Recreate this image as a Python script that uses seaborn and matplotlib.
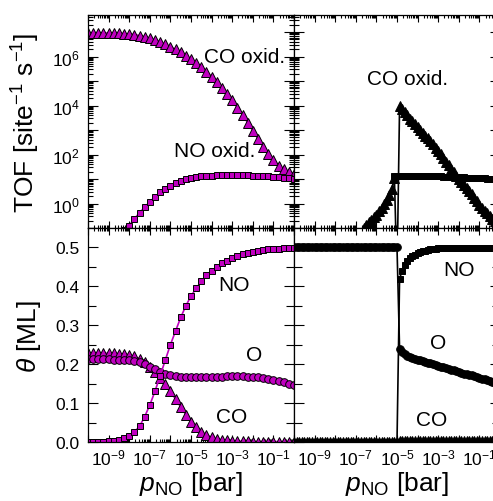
import numpy as np
import pandas as pd
import matplotlib
matplotlib.use('Agg')
import matplotlib.pyplot as plt
import matplotlib.ticker as mticker
import seaborn as sns

# ---- data ----
# pressure grids, log10(p_NO / bar)
logp_left = [-10, -9.75, -9.5, -9.25, -9, -8.75, -8.5, -8.25, -8, -7.75, -7.5, -7.25, -7,
             -6.75, -6.5, -6.25, -6, -5.75, -5.5, -5.25, -5, -4.75, -4.5, -4.25, -4, -3.75,
             -3.5, -3.25, -3, -2.75, -2.5, -2.25, -2, -1.75, -1.5, -1.25, -1, -0.75, -0.5,
             -0.25, 0]
logp_right = [-10, -9.875, -9.75, -9.625, -9.5, -9.375, -9.25, -9.125,
              -9, -8.875, -8.75, -8.625, -8.5, -8.375, -8.25, -8.125,
              -8, -7.875, -7.75, -7.625, -7.5, -7.375, -7.25, -7.125,
              -7, -6.875, -6.75, -6.625, -6.5, -6.375, -6.25, -6.125,
              -6, -5.875, -5.75, -5.625, -5.5, -5.375, -5.25, -5.125,
              -5, -4.875, -4.75, -4.625, -4.5, -4.375, -4.25, -4.125,
              -4, -3.875, -3.75, -3.625, -3.5, -3.375, -3.25, -3.125,
              -3, -2.875, -2.75, -2.625, -2.5, -2.375, -2.25, -2.125,
              -2, -1.875, -1.75, -1.625, -1.5, -1.375, -1.25, -1.125,
              -1, -0.875, -0.75, -0.625, -0.5, -0.375, -0.25, -0.125, 0]

# log10(TOF), left column (magenta)
tof_co_left = [6.97, 6.97, 6.97, 6.97, 6.96, 6.96, 6.95, 6.94, 6.92, 6.9, 6.86, 6.81, 6.75,
               6.68, 6.6, 6.5, 6.4, 6.29, 6.17, 6.04, 5.9, 5.74, 5.57, 5.38, 5.18, 4.96, 4.73,
               4.48, 4.21, 3.92, 3.62, 3.3, 2.97, 2.64, 2.32, 2.02, 1.76, 1.55, 1.4, 1.3, 1.2]
tof_no_left = [-2.6, -2.3, -2.0, -1.8, -1.6, -1.4, -1.25, -1.08, -0.9, -0.62, -0.38, -0.15,
               0.07, 0.27, 0.45, 0.6, 0.73, 0.83, 0.92, 0.99, 1.04, 1.08, 1.11, 1.13, 1.14,
               1.15, 1.15, 1.15, 1.15, 1.15, 1.15, 1.15, 1.14, 1.14, 1.13, 1.12, 1.1, 1.08,
               1.06, 1.03, 1.0]

# coverages, left column (magenta)
cov_no_left = [0.0, 0.0, 0.001, 0.001, 0.002, 0.003, 0.005, 0.009, 0.016, 0.026, 0.04, 0.065,
               0.095, 0.13, 0.17, 0.21, 0.25, 0.285, 0.32, 0.35, 0.375, 0.395, 0.413, 0.428,
               0.44, 0.45, 0.459, 0.466, 0.472, 0.477, 0.482, 0.486, 0.489, 0.492, 0.494,
               0.495, 0.496, 0.497, 0.498, 0.499, 0.499]
cov_o_left = [0.213, 0.213, 0.213, 0.213, 0.213, 0.212, 0.212, 0.211, 0.21, 0.208, 0.205, 0.2,
              0.194, 0.187, 0.18, 0.175, 0.171, 0.169, 0.167, 0.166, 0.166, 0.166, 0.166,
              0.167, 0.167, 0.168, 0.168, 0.169, 0.169, 0.169, 0.169, 0.168, 0.167, 0.166,
              0.164, 0.162, 0.159, 0.156, 0.153, 0.15, 0.147]
cov_co_left = [0.228, 0.228, 0.228, 0.228, 0.228, 0.228, 0.227, 0.226, 0.224, 0.22, 0.214,
               0.205, 0.193, 0.18, 0.165, 0.148, 0.13, 0.11, 0.09, 0.07, 0.052, 0.038, 0.026,
               0.018, 0.012, 0.008, 0.005, 0.004, 0.003, 0.002, 0.002, 0.002, 0.001, 0.001,
               0.001, 0.001, 0.001, 0.001, 0.001, 0.001, 0.001]

# log10(TOF), right column (black); NaN = nothing drawn
nan = np.nan
tof_co_right = [nan, nan, nan, nan, nan, nan, nan, nan,
                nan, nan, nan, nan, nan, nan, nan, nan,
                nan, nan, nan, nan, nan, nan, nan, nan,
                -1.7, -1.45, -1.22, -1.02, -0.88, -0.77, -0.67, -0.57,
                -0.45, -0.32, -0.18, -0.02, 0.14, 0.33, 0.6, 1.05,
                -3.0, 3.98, 3.86, 3.74, 3.6, 3.47, 3.36, 3.25,
                3.13, 3.01, 2.89, 2.77, 2.66, 2.54, 2.42, 2.28,
                2.15, 2.01, 1.86, 1.71, 1.56, 1.42, 1.28, 1.14,
                1.0, 0.87, 0.75, 0.62, 0.5, 0.37, 0.24, 0.1,
                -0.05, -0.17, -0.29, -0.4, -0.51, -0.62, -0.73, -0.84, -0.95]
tof_no_right = [nan, nan, nan, nan, nan, nan, nan, nan,
                nan, nan, nan, nan, nan, nan, nan, nan,
                nan, nan, nan, nan, nan, nan, nan, nan,
                nan, nan, nan, nan, nan, nan, nan, nan,
                nan, nan, nan, nan, nan, nan, nan, 1.13,
                1.14, 1.14, 1.14, 1.14, 1.14, 1.14, 1.13, 1.13,
                1.13, 1.13, 1.13, 1.12, 1.12, 1.12, 1.12, 1.11,
                1.11, 1.11, 1.1, 1.1, 1.1, 1.09, 1.09, 1.08,
                1.08, 1.07, 1.07, 1.06, 1.06, 1.05, 1.05, 1.04,
                1.04, 1.03, 1.03, 1.02, 1.02, 1.01, 1.01, 1.0, 1.0]

# coverages, right column (black)
cov_o_right = [0.5, 0.5, 0.5, 0.5, 0.5, 0.5, 0.5, 0.5,
               0.5, 0.5, 0.5, 0.5, 0.5, 0.5, 0.5, 0.5,
               0.5, 0.5, 0.5, 0.5, 0.5, 0.5, 0.5, 0.5,
               0.5, 0.5, 0.5, 0.5, 0.5, 0.5, 0.5, 0.5,
               0.5, 0.5, 0.5, 0.5, 0.5, 0.5, 0.5, 0.5,
               0.5, 0.24, 0.231, 0.225, 0.221, 0.218, 0.216, 0.214,
               0.212, 0.21, 0.208, 0.206, 0.204, 0.202, 0.2, 0.198,
               0.196, 0.194, 0.192, 0.19, 0.188, 0.186, 0.184, 0.182,
               0.18, 0.178, 0.176, 0.175, 0.173, 0.171, 0.169, 0.167,
               0.165, 0.163, 0.161, 0.159, 0.157, 0.155, 0.152, 0.15, 0.147]
cov_no_right = [0.0, 0.0, 0.0, 0.0, 0.0, 0.0, 0.0, 0.0,
                0.0, 0.0, 0.0, 0.0, 0.0, 0.0, 0.0, 0.0,
                0.0, 0.0, 0.0, 0.0, 0.0, 0.0, 0.0, 0.0,
                0.0, 0.0, 0.0, 0.0, 0.0, 0.0, 0.0, 0.0,
                0.0, 0.0, 0.0, 0.0, 0.0, 0.0, 0.0, 0.0,
                0.0, 0.42, 0.44, 0.455, 0.465, 0.472, 0.477, 0.481,
                0.485, 0.488, 0.49, 0.492, 0.494, 0.495, 0.496, 0.497,
                0.498, 0.499, 0.499, 0.499, 0.499, 0.499, 0.499, 0.499,
                0.499, 0.499, 0.499, 0.499, 0.499, 0.499, 0.499, 0.499,
                0.499, 0.499, 0.499, 0.499, 0.499, 0.499, 0.499, 0.499, 0.499]
cov_co_right = [0.0, 0.0, 0.0, 0.0, 0.0, 0.0, 0.0, 0.0,
                0.0, 0.0, 0.0, 0.0, 0.0, 0.0, 0.0, 0.0,
                0.0, 0.0, 0.0, 0.0, 0.0, 0.0, 0.0, 0.0,
                0.0, 0.0, 0.0, 0.0, 0.0, 0.0, 0.0, 0.0,
                0.0, 0.0, 0.0, 0.0, 0.0, 0.0, 0.0, 0.0,
                0.0, 0.002, 0.002, 0.002, 0.002, 0.002, 0.002, 0.002,
                0.002, 0.002, 0.002, 0.002, 0.002, 0.002, 0.002, 0.002,
                0.002, 0.002, 0.002, 0.002, 0.002, 0.002, 0.002, 0.002,
                0.002, 0.002, 0.002, 0.002, 0.002, 0.002, 0.002, 0.002,
                0.002, 0.002, 0.002, 0.002, 0.002, 0.002, 0.002, 0.002, 0.002]

MAGENTA = '#c000c0'

sns.set_style('ticks')
plt.rcParams['font.family'] = ['Liberation Sans', 'DejaVu Sans']
plt.rcParams['mathtext.fontset'] = 'custom'
plt.rcParams['mathtext.rm'] = 'Liberation Sans'
plt.rcParams['mathtext.it'] = 'Liberation Sans:italic'
plt.rcParams['mathtext.bf'] = 'Liberation Sans:bold'
plt.rcParams['axes.linewidth'] = 0.9
for key in ('text.color', 'axes.labelcolor', 'xtick.color', 'ytick.color',
            'xtick.labelcolor', 'ytick.labelcolor', 'axes.edgecolor'):
    plt.rcParams[key] = 'black'


def draw(ax, logp, vals, marker, color, ms, log_y=False):
    df = pd.DataFrame({'p': 10.0 ** np.array(logp), 'v': np.array(vals, dtype=float)}).dropna()
    if log_y:
        df['v'] = 10.0 ** df['v']
    sns.lineplot(data=df, x='p', y='v', ax=ax, color=color, marker=marker, markersize=ms,
                 markerfacecolor=color, markeredgecolor='black', markeredgewidth=0.7,
                 linewidth=1.2, estimator=None, legend=False)


def log_label(odd):
    def f(v, pos):
        e = int(round(np.log10(v)))
        if (e % 2 == 1) == odd:
            return r'$10^{%d}$' % e
        return ''
    return mticker.FuncFormatter(f)


fig = plt.figure(figsize=(4.93, 5.02), dpi=100)
W, H = 493.0, 502.0
x0, xm, aw = 88 / W, 294 / W, 206 / W
ax_tl = fig.add_axes([x0, 1 - 229 / H, aw, 213 / H])
ax_tr = fig.add_axes([xm, 1 - 229 / H, aw, 213 / H])
ax_bl = fig.add_axes([x0, 1 - 443 / H, aw, 214 / H])
ax_br = fig.add_axes([xm, 1 - 443 / H, aw, 214 / H])

for ax in (ax_tl, ax_tr, ax_bl, ax_br):
    ax.set_xscale('log')
for ax in (ax_tl, ax_tr):
    ax.set_yscale('log')

# top row: turnover frequencies
draw(ax_tl, logp_left, tof_co_left, '^', MAGENTA, 6.5, log_y=True)
draw(ax_tl, logp_left, tof_no_left, 's', MAGENTA, 5.0, log_y=True)
draw(ax_tr, logp_right, tof_co_right, '^', 'black', 6.5, log_y=True)
draw(ax_tr, logp_right, tof_no_right, 's', 'black', 5.0, log_y=True)

# bottom row: coverages
draw(ax_bl, logp_left, cov_co_left, '^', MAGENTA, 6.5)
draw(ax_bl, logp_left, cov_o_left, 'o', MAGENTA, 5.5)
draw(ax_bl, logp_left, cov_no_left, 's', MAGENTA, 5.0)
draw(ax_br, logp_right, cov_co_right, '^', 'black', 6.5)
draw(ax_br, logp_right, cov_o_right, 'o', 'black', 5.5)
draw(ax_br, logp_right, cov_no_right, 's', 'black', 5.0)

for ax in (ax_tl, ax_tr, ax_bl, ax_br):
    ax.set_xlim(1e-10, 1e0)
    ax.xaxis.set_major_locator(mticker.LogLocator(base=10, subs=(1.0,), numticks=30))
    ax.xaxis.set_minor_locator(mticker.LogLocator(base=10, subs=np.arange(2, 10), numticks=30))
    ax.xaxis.set_minor_formatter(mticker.NullFormatter())
    ax.tick_params(which='both', direction='in', top=True, right=True,
                   labelsize=12.5, width=0.8, color='black', labelcolor='black')
    ax.tick_params(axis='x', which='major', length=5, pad=4)
    ax.tick_params(axis='x', which='minor', length=2.5)
    ax.set_xlabel('')
    ax.set_ylabel('')
    for s in ax.spines.values():
        s.set_visible(True)
        s.set_color('black')

for ax in (ax_tl, ax_tr):
    ax.set_ylim(1e-1, 5e7)
    ax.yaxis.set_major_locator(mticker.LogLocator(base=10, subs=(1.0,), numticks=30))
    ax.yaxis.set_minor_locator(mticker.LogLocator(base=10, subs=np.arange(2, 10), numticks=30))
    ax.yaxis.set_minor_formatter(mticker.NullFormatter())
    ax.yaxis.set_major_formatter(log_label(False))
    ax.tick_params(axis='y', which='major', length=7, pad=6)
    ax.tick_params(axis='y', which='minor', length=3.5)
    ax.tick_params(axis='x', labelbottom=False)

for ax in (ax_bl, ax_br):
    ax.set_ylim(0, 0.55)
    ax.yaxis.set_major_locator(mticker.MultipleLocator(0.1))
    ax.yaxis.set_minor_locator(mticker.MultipleLocator(0.05))
    ax.yaxis.set_major_formatter(mticker.FormatStrFormatter('%.1f'))
    ax.tick_params(axis='y', which='major', length=7, pad=6)
    ax.tick_params(axis='y', which='minor', length=6)
    ax.xaxis.set_major_formatter(log_label(True))
    ax.set_xlabel(r'$p_{\mathrm{NO}}$ [bar]', fontsize=19)
    ax.xaxis.set_label_coords(0.5, -0.125)
    ax.xaxis.label.set_va('top')

for ax in (ax_tr, ax_br):
    ax.tick_params(axis='y', labelleft=False)

ax_tl.set_ylabel(r'TOF [site$^{-1}$ s$^{-1}$]', fontsize=19)
ax_tl.yaxis.set_label_coords(-0.225, 0.5)
ax_bl.set_ylabel(r'$\theta$ [ML]', fontsize=19)
ax_bl.yaxis.set_label_coords(-0.22, 0.5)

# curve labels
txt = dict(fontsize=15, ha='center', va='center', color='black')
ax_tl.text(0.762, 0.805, 'CO oxid.', transform=ax_tl.transAxes, **txt)
ax_tl.text(0.614, 0.362, 'NO oxid.', transform=ax_tl.transAxes, **txt)
ax_tr.text(0.551, 0.70, 'CO oxid.', transform=ax_tr.transAxes, **txt)
ax_bl.text(0.709, 0.738, 'NO', transform=ax_bl.transAxes, **txt)
ax_bl.text(0.806, 0.411, 'O', transform=ax_bl.transAxes, **txt)
ax_bl.text(0.699, 0.121, 'CO', transform=ax_bl.transAxes, **txt)
ax_br.text(0.801, 0.808, 'NO', transform=ax_br.transAxes, **txt)
ax_br.text(0.699, 0.463, 'O', transform=ax_br.transAxes, **txt)
ax_br.text(0.67, 0.103, 'CO', transform=ax_br.transAxes, **txt)

fig.savefig('out.png', dpi=100)
